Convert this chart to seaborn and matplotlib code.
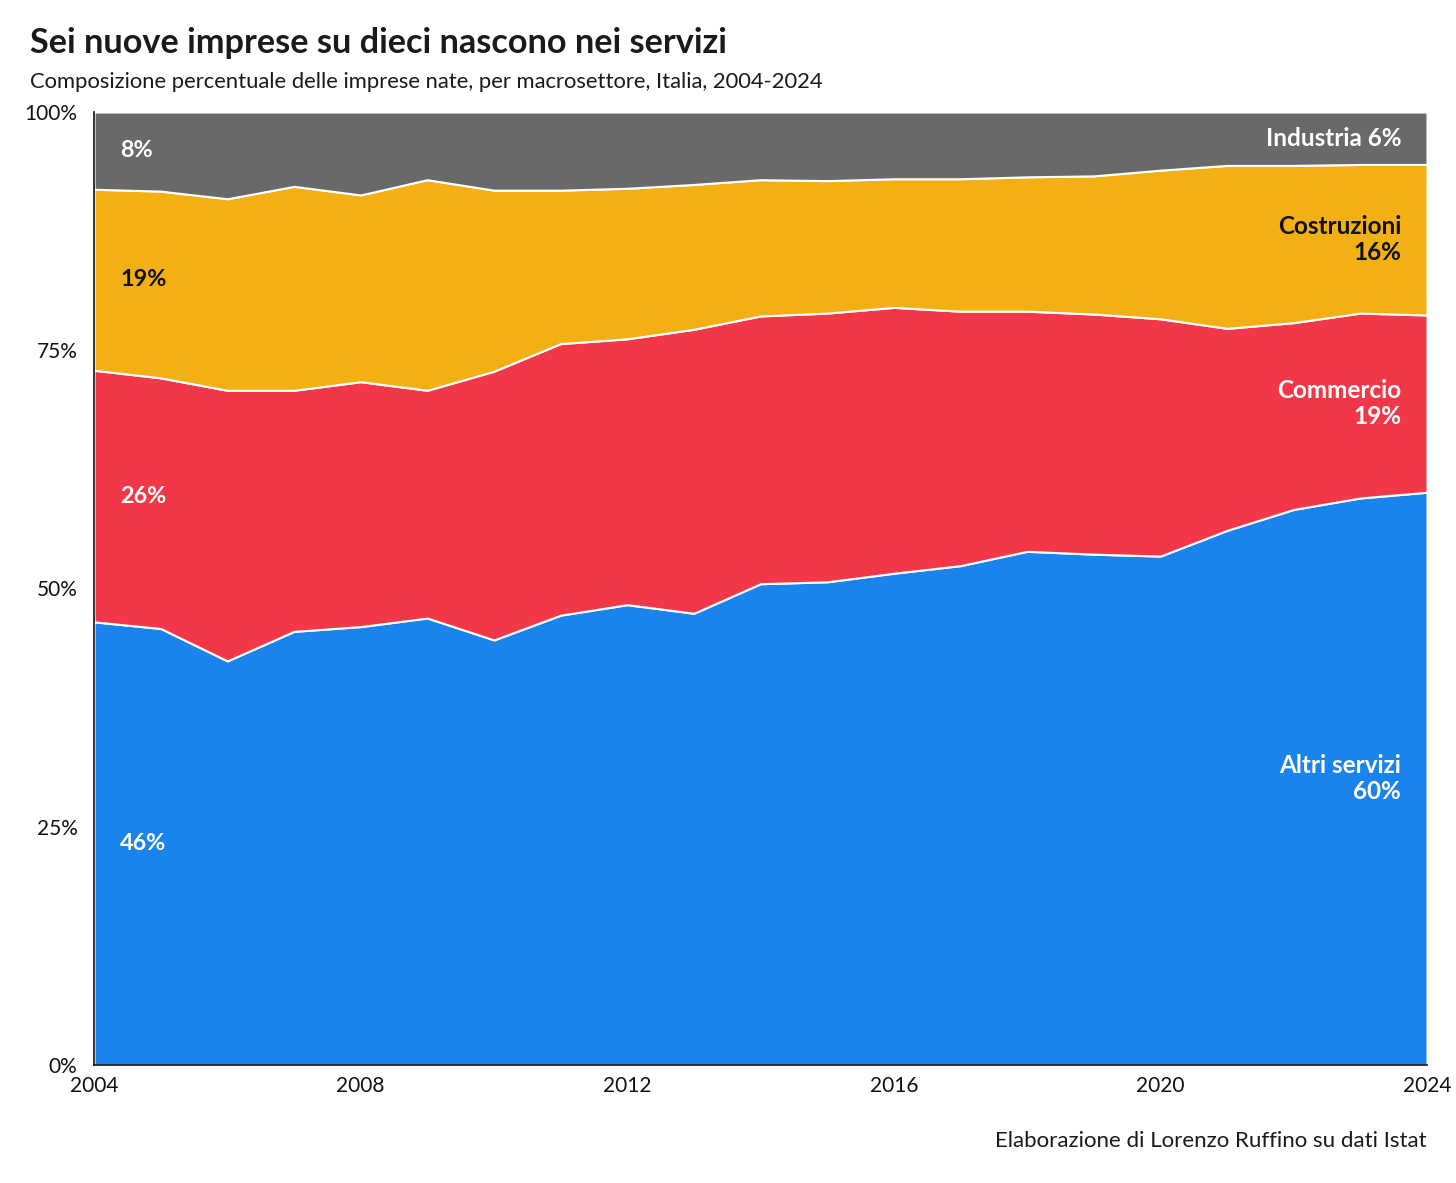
import numpy as np
import pandas as pd
import seaborn as sns
import matplotlib.pyplot as plt
from matplotlib.ticker import PercentFormatter

# Data - shares in %
years = list(range(2004, 2025))

altri_servizi = [46.5, 45.8, 42.4, 45.5, 46.0, 46.9, 44.6, 47.2, 48.3, 47.4, 50.5,
                 50.7, 51.6, 52.4, 53.9, 53.6, 53.4, 56.1, 58.3, 59.5, 60.1]
commercio = [26.4, 26.3, 28.4, 25.3, 25.7, 23.9, 28.2, 28.5, 27.9, 29.8, 28.1,
             28.2, 27.9, 26.7, 25.2, 25.2, 24.9, 21.2, 19.6, 19.4, 18.6]
costruzioni = [19.0, 19.6, 20.1, 21.4, 19.6, 22.1, 19.0, 16.1, 15.8, 15.2, 14.3,
               13.9, 13.5, 13.9, 14.1, 14.5, 15.6, 17.1, 16.5, 15.6, 15.8]
industria = [8.1, 8.3, 9.1, 7.8, 8.7, 7.1, 8.2, 8.2, 8.0, 7.6, 7.1,
             7.2, 7.0, 7.0, 6.8, 6.7, 6.1, 5.6, 5.6, 5.5, 5.5]

sectors = ["Altri servizi", "Commercio", "Costruzioni", "Industria"]
colors = ["#1a84ec", "#f23848", "#f2b014", "#696969"]
label_colors = ["white", "white", "#111111", "white"]

df = pd.DataFrame({"anno": years, "Altri servizi": altri_servizi, "Commercio": commercio,
                   "Costruzioni": costruzioni, "Industria": industria})

sns.set_theme(style="white")
plt.rcParams["font.family"] = ["Lato", "DejaVu Sans"]

fig = plt.figure(figsize=(14.56, 11.83), dpi=100)
ax = fig.add_axes([0.0646, 0.0998, 0.9155, 0.8055])

ax.stackplot(df["anno"], [df[s] for s in sectors], colors=colors,
             edgecolor="white", linewidth=1.5)

ax.set_xlim(2004, 2024)
ax.set_ylim(0, 100)
ax.set_xticks([2004, 2008, 2012, 2016, 2020, 2024])
ax.set_yticks([0, 25, 50, 75, 100])
ax.yaxis.set_major_formatter(PercentFormatter(decimals=0))
ax.tick_params(axis="both", labelsize=15, length=0, colors="#111111")
ax.tick_params(axis="y", pad=12)
ax.tick_params(axis="x", pad=8)
sns.despine(ax=ax)
for side in ["left", "bottom"]:
    ax.spines[side].set_color("#111111")
    ax.spines[side].set_linewidth(1.2)
ax.set_xlabel("")
ax.set_ylabel("")

# Band labels at the two ends
cum = df[sectors].cumsum(axis=1)
for i, s in enumerate(sectors):
    lo_first = 0 if i == 0 else cum[sectors[i - 1]].iloc[0]
    mid_first = (lo_first + cum[s].iloc[0]) / 2
    ax.text(2004.39, mid_first, f"{round(df[s].iloc[0]):.0f}%", ha="left", va="center",
            fontsize=16.8, fontweight="bold", color=label_colors[i])

    lo_last = 0 if i == 0 else cum[sectors[i - 1]].iloc[-1]
    mid_last = (lo_last + cum[s].iloc[-1]) / 2
    if s == "Industria":
        txt = f"{s} {round(df[s].iloc[-1]):.0f}%"
    else:
        txt = f"{s}\n{round(df[s].iloc[-1]):.0f}%"
    ax.text(2023.61, mid_last, txt, ha="right", va="center", fontsize=17.5,
            fontweight="bold", color=label_colors[i], linespacing=1.15)

fig.text(30 / 1456, 1 - 43 / 1183, "Sei nuove imprese su dieci nascono nei servizi",
         ha="left", va="center", fontsize=24.7, fontweight="bold", color="#1a1a1a")
fig.text(30 / 1456, 1 - 82 / 1183,
         "Composizione percentuale delle imprese nate, per macrosettore, Italia, 2004-2024",
         ha="left", va="center", fontsize=15.8, color="#1a1a1a")
fig.text(1427 / 1456, 1 - 1141 / 1183, "Elaborazione di Lorenzo Ruffino su dati Istat",
         ha="right", va="center", fontsize=16, color="#1a1a1a")

fig.savefig("out.png", dpi=100)
